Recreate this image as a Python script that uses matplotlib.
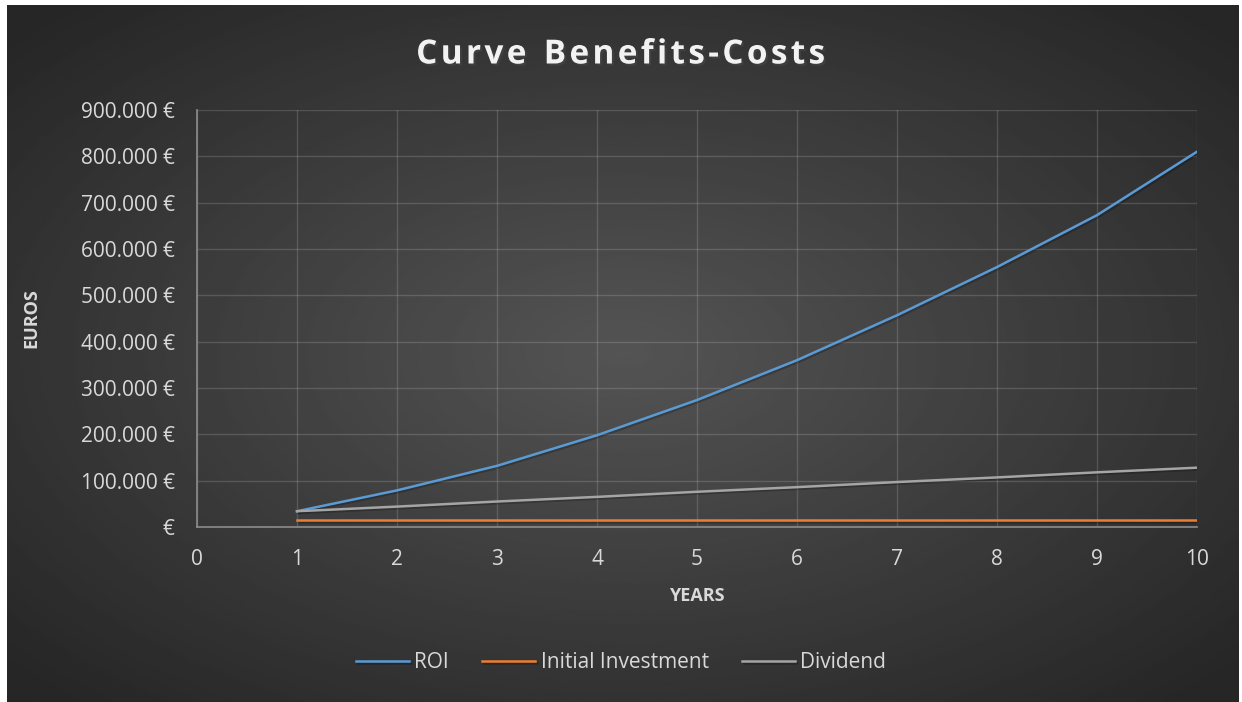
"""Curve Benefits-Costs: ROI, initial investment and dividend over ten years."""

import numpy as np
import matplotlib

matplotlib.use("Agg")
import matplotlib.pyplot as plt
import matplotlib.patheffects as pe
from matplotlib.ticker import FuncFormatter, MultipleLocator

# Values (euros per year).
years = [1, 2, 3, 4, 5, 6, 7, 8, 9, 10]
roi = [34000, 79000, 132000, 198000, 274000, 360000, 457000, 561000, 673000, 810000]
initial_investment = [15000, 15000, 15000, 15000, 15000, 15000, 15000, 15000, 15000, 15000]
dividend = [34000, 44000, 55000, 65000, 76000, 86000, 97000, 107000, 118000, 128000]

series_labels = ["ROI", "Initial Investment", "Dividend"]
series_colors = ["#5b9bd5", "#ed7d31", "#a5a5a5"]
title = "Curve Benefits-Costs"

FONT = "Open Sans"
TEXT_COLOR = "#d9d9d9"


def euro_label(value, _pos):
    # Excel style: dot as thousands separator, zero shows only the sign.
    if value == 0:
        return "€"
    return f"{value:,.0f} €".replace(",", ".")


def spaced(text):
    # Mimic the letter spacing of the title: hair spaces between letters.
    return "  ".join("\u200a".join(word) for word in text.split(" "))


fig = plt.figure(figsize=(12.42, 7.02), dpi=100)
fig.patch.set_facecolor("white")

# Chart area with a radial dark gradient (white margin on left and top).
W, H = 1242, 702
left, top, right, bottom = 7, 5, 1239, 702
bg = fig.add_axes([left / W, 1 - bottom / H, (right - left) / W, (bottom - top) / H])
gx, gy = np.meshgrid(np.linspace(-1, 1, 400), np.linspace(-1, 1, 250))
dist = np.clip(np.sqrt(gx ** 2 + gy ** 2) / 1.35, 0, 1)
shade = 0.33 - 0.18 * dist
bg.imshow(shade, cmap="gray", vmin=0, vmax=1, aspect="auto", extent=[0, 1, 0, 1])
bg.set_axis_off()

ax = fig.add_axes([197 / W, 1 - 527 / H, 1000 / W, 417 / H])
ax.patch.set_alpha(0)

shadow = [pe.SimpleLineShadow(offset=(1.2, -1.2), shadow_color="black", alpha=0.22), pe.Normal()]
for values, label, color in zip([roi, initial_investment, dividend], series_labels, series_colors):
    ax.plot(years, values, color=color, linewidth=1.8, label=label, path_effects=shadow)

ax.set_xlim(0, 10)
ax.set_ylim(0, 900000)
ax.xaxis.set_major_locator(MultipleLocator(1))
ax.yaxis.set_major_locator(MultipleLocator(100000))
ax.yaxis.set_major_formatter(FuncFormatter(euro_label))

ax.grid(True, color="#ffffff", alpha=0.15, linewidth=1.0)
ax.set_axisbelow(True)
for side in ["top", "right"]:
    ax.spines[side].set_visible(False)
for side in ["left", "bottom"]:
    ax.spines[side].set_color("#8c8c8c")
    ax.spines[side].set_linewidth(1.2)

ax.tick_params(axis="y", length=0, pad=16, labelsize=15, labelcolor=TEXT_COLOR)
ax.tick_params(axis="x", length=0, pad=16, labelsize=15, labelcolor=TEXT_COLOR)
for lbl in ax.get_xticklabels() + ax.get_yticklabels():
    lbl.set_family(FONT)

ax.set_xlabel("YEARS", fontsize=13, fontweight="bold", color=TEXT_COLOR, family=FONT, labelpad=12)
ax.set_ylabel("EUROS", fontsize=13, fontweight="bold", color=TEXT_COLOR, family=FONT, labelpad=10)
ax.yaxis.set_label_coords(-0.157, 0.5)

fig.text(0.5, 1 - 55 / H, spaced(title),
         ha="center", va="center", fontsize=24, fontweight="bold", color="#f2f2f2", family=FONT,
         path_effects=[pe.withSimplePatchShadow(offset=(1.5, -1.5), alpha=0.5)])

leg = fig.legend(loc="center", bbox_to_anchor=(0.5, 1 - 663 / H), ncol=3, frameon=False,
                 handlelength=2.55, handletextpad=0.25, columnspacing=1.6,
                 prop={"family": FONT, "size": 15})
for text in leg.get_texts():
    text.set_color(TEXT_COLOR)

fig.savefig("out.png", dpi=100)
